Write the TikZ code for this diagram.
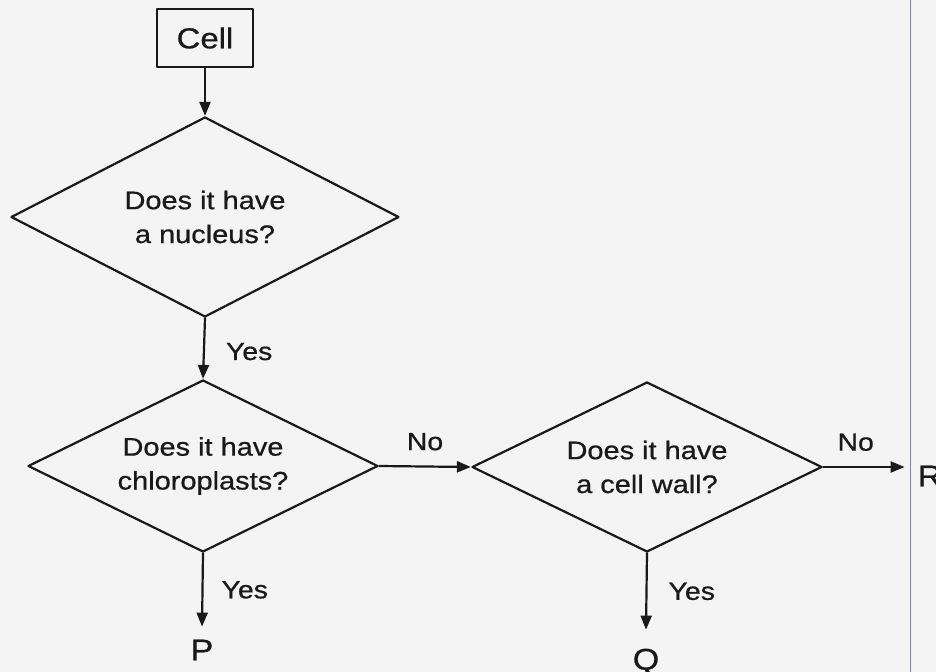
\documentclass[tikz,border=0pt]{standalone}
\usepackage{fontspec}
\setmainfont{Liberation Sans}[FakeStretch=1.14,FakeBold=0.7]
\usepackage{tikz}
\usetikzlibrary{arrows.meta}
\usetikzlibrary{shapes.geometric}
\usetikzlibrary{positioning}
\definecolor{pageline}{RGB}{120,130,185}
\definecolor{paper}{RGB}{244,244,244}
\definecolor{ink}{RGB}{25,25,25}

\begin{document}
\begin{tikzpicture}[x=1bp,y=-1bp,line cap=round,line join=round,line width=2.2bp,color=ink,
    >={Triangle[length=14bp,width=11bp]},
    startbox/.style={draw,minimum width=96bp,minimum height=58bp,inner sep=0pt,font=\fontsize{29}{34}\selectfont},
    question/.style={diamond,draw,aspect=2,align=center,inner sep=0pt,font=\fontsize{25.5}{34}\selectfont},
    answer/.style={font=\fontsize{25}{30}\selectfont,inner sep=3bp},
    leaf/.style={font=\fontsize{30}{34}\selectfont,inner sep=12bp}]
        \useasboundingbox (0,0) rectangle (936,672);
        \fill[paper] (0,0) rectangle (936,672);
        \draw[pageline,line width=1bp] (910,0) -- (910,672);
        % 
        \node[startbox] (cell) at (205,38) {Cell};
        \node[question,minimum width=388bp,minimum height=200bp] (nucleus) at (205,217) {Does it have\\a nucleus?};
        \node[question,minimum width=350bp,minimum height=172bp] (chloro) at (203,466) {Does it have\\chloroplasts?};
        \node[question,minimum width=350bp,minimum height=170bp] (wall) at (647,467) {Does it have\\a cell wall?};
        % 
        \node[leaf] (p) at (202,650) {P};
        \node[leaf,inner sep=18bp] (q) at (646,662) {Q};
        \node[leaf] (r) at (930,476) {R};
        % 
        \draw[->] (cell) -- (nucleus);
        \draw[->] (nucleus.south) -- node[answer,right=18bp,pos=0.55] {Yes} (chloro.north);
        \draw[->] (chloro.east) -- node[answer,above=12bp] {No} (wall.west);
        \draw[->] (chloro.south) -- node[answer,right=15bp] {Yes} (p.north);
        \draw[->] (wall.east) -- node[answer,above=12bp,pos=0.4] {No} (wall.east -| r.west);
        \draw[->] (wall.south) -- node[answer,right=18bp] {Yes} (q.north);
      \end{tikzpicture}
\end{document}
